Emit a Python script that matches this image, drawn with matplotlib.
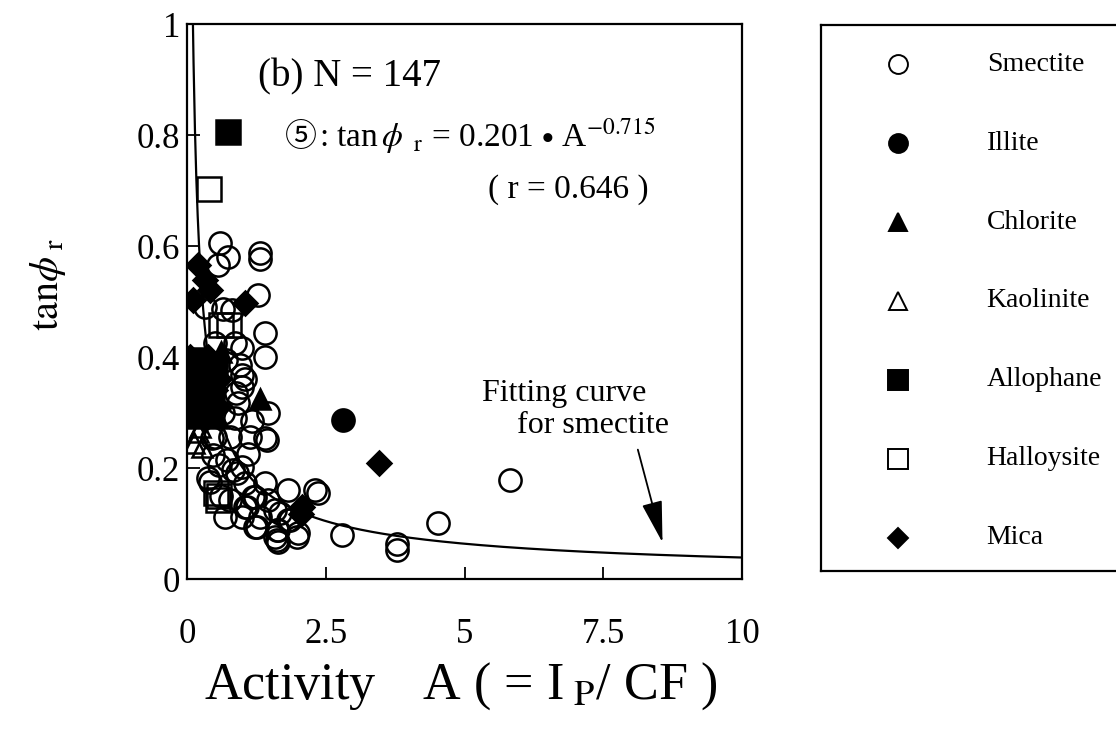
import numpy as np
import matplotlib
matplotlib.use("Agg")
import matplotlib.pyplot as plt

plt.rcParams["font.family"] = ["Liberation Serif", "DejaVu Serif"]
plt.rcParams["mathtext.fontset"] = "stix"

# ---- data: activity A and residual strength tan(phi_r) per clay mineral ----
smectite_A = [0.59, 0.74, 0.56, 1.32, 1.32, 1.28, 0.32, 0.65, 0.81, 1.40, 1.40, 0.50, 0.86, 0.99,
              0.95, 0.99, 0.99, 1.04, 0.92, 0.86, 1.17, 1.46, 1.40, 1.44, 0.50, 0.77, 0.45, 1.13,
              0.47, 0.72, 0.83, 0.99, 0.38, 0.41, 0.90, 1.04, 1.41, 1.82, 2.31, 0.68, 0.99, 1.22,
              1.05, 1.59, 1.64, 1.82, 2.00, 1.59, 1.64, 1.22, 1.46, 0.77, 1.08, 1.19, 1.32, 1.26,
              1.68, 1.62, 1.62, 1.98, 1.86, 2.36, 2.79, 3.78, 3.78, 4.52, 5.82, 0.62, 0.58, 1.10,
              0.70, 0.88, 0.64]
smectite_tan = [0.605, 0.580, 0.566, 0.588, 0.576, 0.512, 0.490, 0.486, 0.485, 0.443, 0.400, 0.425,
                0.425, 0.416, 0.386, 0.368, 0.346, 0.360, 0.317, 0.290, 0.285, 0.300, 0.254, 0.250,
                0.256, 0.256, 0.254, 0.256, 0.223, 0.214, 0.196, 0.202, 0.182, 0.175, 0.191, 0.173,
                0.173, 0.160, 0.160, 0.112, 0.112, 0.094, 0.130, 0.124, 0.088, 0.106, 0.083, 0.076,
                0.067, 0.148, 0.142, 0.142, 0.130, 0.148, 0.112, 0.094, 0.119, 0.088, 0.070, 0.076,
                0.106, 0.155, 0.079, 0.063, 0.052, 0.101, 0.178, 0.150, 0.205, 0.225,
                0.395, 0.335, 0.300]

illite_A = [2.81]
illite_tan = [0.286]

chlorite_A = [1.32, 0.55, 0.15, 0.62]
chlorite_tan = [0.325, 0.290, 0.290, 0.410]

kaolinite_A = [0.20, 0.24, 0.27, 0.12]
kaolinite_tan = [0.265, 0.274, 0.238, 0.245]

allophane_A = [0.74, 0.30, 0.45, 0.22, 0.50, 0.35, 0.15]
allophane_tan = [0.805, 0.370, 0.330, 0.350, 0.385, 0.310, 0.395]

halloysite_A = [0.40, 0.62, 0.76, 0.52, 0.55, 0.58]
halloysite_tan = [0.703, 0.458, 0.458, 0.155, 0.142, 0.150]

mica_A = [0.05, 0.10, 0.12, 0.15, 0.06, 0.20, 0.25, 0.30, 0.35, 0.40, 0.45, 0.50, 0.55, 0.30,
          0.20, 0.58, 0.08, 0.38, 0.20, 0.32, 0.11, 0.41, 1.05, 2.07, 2.05, 3.46]
mica_tan = [0.400, 0.370, 0.340, 0.310, 0.300, 0.380, 0.350, 0.330, 0.360, 0.300, 0.380, 0.340,
            0.310, 0.290, 0.320, 0.360, 0.350, 0.400, 0.566, 0.539, 0.503, 0.521, 0.497, 0.130,
            0.118, 0.209]

# fitting curve for smectite: tan(phi_r) = a * A^b
fit_a = 0.201
fit_b = -0.715

x_ticks = [0, 2.5, 5, 7.5, 10]
x_tick_labels = ["0", "2.5", "5", "7.5", "10"]
y_ticks = [0, 0.2, 0.4, 0.6, 0.8, 1.0]
y_tick_labels = ["0", "0.2", "0.4", "0.6", "0.8", "1"]

legend_labels = ["Smectite", "Illite", "Chlorite", "Kaolinite", "Allophane", "Halloysite", "Mica"]

# marker styles per mineral
styles = {
    "Smectite": dict(marker="o", mfc="none", ms=16),
    "Illite": dict(marker="o", mfc="black", ms=16),
    "Chlorite": dict(marker="^", mfc="black", ms=15),
    "Kaolinite": dict(marker="^", mfc="none", ms=15),
    "Allophane": dict(marker="s", mfc="black", ms=17),
    "Halloysite": dict(marker="s", mfc="none", ms=17),
    "Mica": dict(marker="D", mfc="black", ms=12.5),
}
series = {
    "Smectite": (smectite_A, smectite_tan),
    "Illite": (illite_A, illite_tan),
    "Chlorite": (chlorite_A, chlorite_tan),
    "Kaolinite": (kaolinite_A, kaolinite_tan),
    "Allophane": (allophane_A, allophane_tan),
    "Halloysite": (halloysite_A, halloysite_tan),
    "Mica": (mica_A, mica_tan),
}

fig = plt.figure(figsize=(11.16, 7.32), dpi=100)
ax = fig.add_axes([0.1676, 0.209, 0.4973, 0.758])

# fitted power curve
A = np.linspace(0.08, 10, 800)
ax.plot(A, fit_a * A ** fit_b, color="black", lw=1.6, zorder=2)

draw_order = ["Mica", "Allophane", "Chlorite", "Kaolinite", "Halloysite", "Illite", "Smectite"]
for name in draw_order:
    xs, ys = series[name]
    st = styles[name]
    ax.plot(xs, ys, linestyle="none", marker=st["marker"], ms=st["ms"],
            mfc=st["mfc"], mec="black", mew=1.8, zorder=3)

ax.set_xlim(0, 10)
ax.set_ylim(0, 1)
ax.set_xticks(x_ticks)
ax.set_xticklabels(x_tick_labels)
ax.set_yticks(y_ticks)
ax.set_yticklabels(y_tick_labels)
ax.tick_params(direction="in", length=9, width=1.3, labelsize=25)
ax.tick_params(axis="x", pad=28)
ax.tick_params(axis="y", pad=5)
for sp in ax.spines.values():
    sp.set_linewidth(1.6)

ax.set_xlabel(r"Activity$\quad\;$A ( = I$_{\ \mathrm{P}}$/ CF )", fontsize=37.5)
ax.xaxis.set_label_coords(0.493, -0.147)
ax.set_ylabel(r"$\mathrm{tan}\phi_{\ \mathrm{r}}$", fontsize=29)
ax.yaxis.set_label_coords(-0.215, 0.53)

# annotations
ax.text(1.28, 0.905, "(b) N = 147", fontsize=28, va="center")
ax.text(2.05, 0.796, "⑤", fontsize=23, family=["Noto Sans CJK JP"], ha="center", va="center")
ax.text(2.38, 0.778, r": tan$\,\phi_{\ \ \mathrm{r}}$ = 0.201 $\bullet$ A$^{-0.715}$",
        fontsize=24, va="baseline")
ax.text(5.42, 0.688, "( r = 0.646 )", fontsize=24, va="baseline")
ax.text(5.32, 0.335, "Fitting curve", fontsize=23, va="center")
ax.text(5.95, 0.277, "for smectite", fontsize=23, va="center")
ax.annotate("", xy=(8.58, 0.061), xytext=(8.11, 0.238),
            arrowprops=dict(arrowstyle="-|>,head_length=1.3,head_width=0.32",
                            color="black", lw=1.3, mutation_scale=20))

# legend panel
lax = fig.add_axes([0.7357, 0.22, 0.28, 0.7458])
lax.set_xlim(0, 1)
lax.set_ylim(0, 1)
lax.set_xticks([])
lax.set_yticks([])
for sp in lax.spines.values():
    sp.set_linewidth(1.6)
for i, name in enumerate(legend_labels):
    y = 0.9286 - i * 0.1447
    st = styles[name]
    lax.plot([0.245], [y], linestyle="none", marker=st["marker"], ms=st["ms"] * 0.85,
             mfc=st["mfc"] if st["mfc"] != "none" else "white", mec="black", mew=1.4)
    lax.text(0.53, y, name, fontsize=20, va="center")

fig.savefig("out.png", dpi=100)
